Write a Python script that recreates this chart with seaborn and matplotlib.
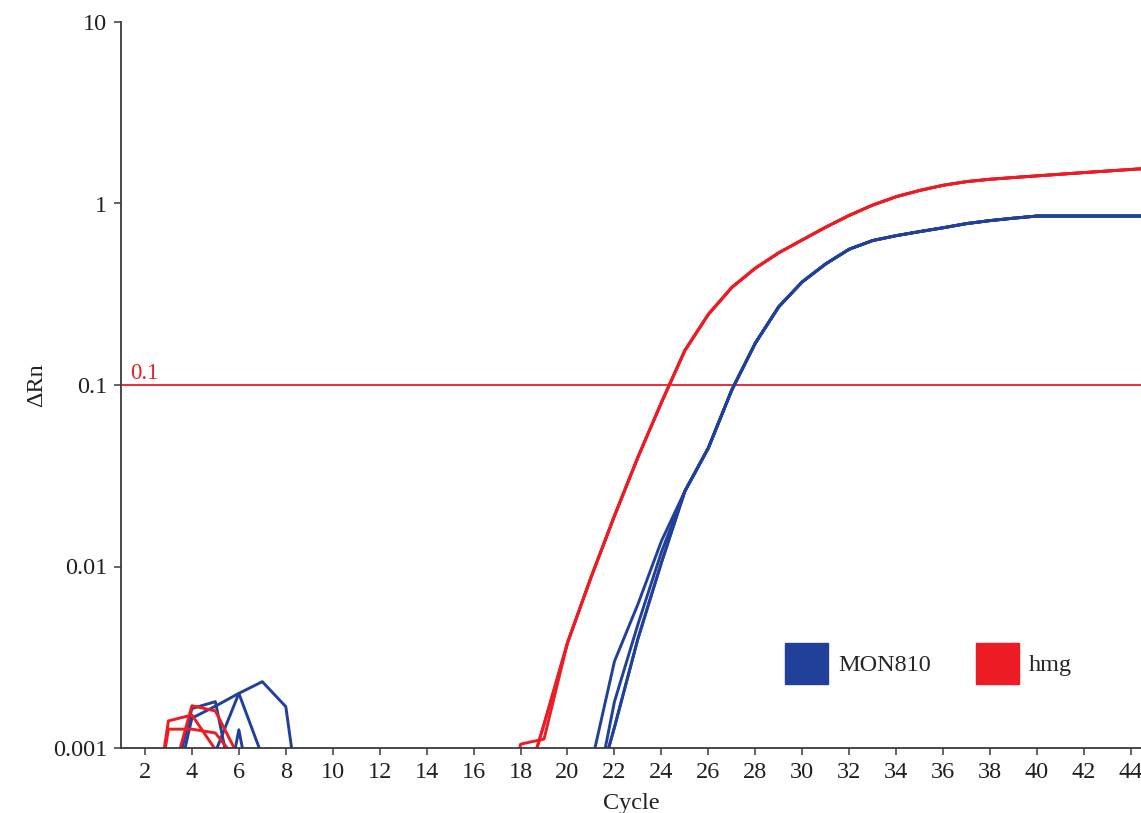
import numpy as np
import pandas as pd
import matplotlib
matplotlib.use("Agg")
import matplotlib.pyplot as plt
from matplotlib.patches import Patch
from matplotlib.ticker import FixedLocator, FixedFormatter, NullLocator
import seaborn as sns

# ---------------- data ----------------
cycles = list(range(1, 46))

# hmg replicates, cycles 1..19 (baseline / noise)
hmg_rep1_early = [0.0002, 0.0002, 0.00141, 0.00152, 0.00098, 0.0003, 0.0002, 0.0002, 0.0002, 0.0002,
                  0.0002, 0.0002, 0.0002, 0.0002, 0.0002, 0.0002, 0.0002, 0.00105, 0.00112]
hmg_rep2_early = [0.0002, 0.0002, 0.00127, 0.00127, 0.00121, 0.00083, 0.0002, 0.0002, 0.0002, 0.0002,
                  0.0002, 0.0002, 0.0002, 0.0002, 0.0002, 0.0002, 0.0002, 0.0005, 0.00135]
hmg_rep3_early = [0.0002, 0.0002, 0.00058, 0.00171, 0.0016, 0.00089, 0.0002, 0.0002, 0.0002, 0.0002,
                  0.0002, 0.0002, 0.0002, 0.0002, 0.0002, 0.0002, 0.0002, 0.0005, 0.00135]
# hmg amplification, cycles 20..45 (replicates overlap)
hmg_late = [0.0038, 0.0087, 0.019, 0.040, 0.080, 0.155, 0.245, 0.345, 0.44, 0.535, 0.63, 0.74, 0.86,
            0.98, 1.09, 1.18, 1.26, 1.32, 1.36, 1.39, 1.42, 1.45, 1.48, 1.51, 1.54, 1.57]

# MON810 replicates, cycles 1..24
mon_rep1_early = [0.0002, 0.0002, 0.0005, 0.00165, 0.0018, 0.00042, 0.0002, 0.0002, 0.0002, 0.0002,
                  0.0002, 0.0002, 0.0002, 0.0002, 0.0002, 0.0002, 0.0002, 0.0002, 0.0002, 0.0002,
                  0.0008, 0.003, 0.0062, 0.0138]
mon_rep2_early = [0.0002, 0.0002, 0.0004, 0.00146, 0.0017, 0.0020, 0.0009, 0.0003, 0.0002, 0.0002,
                  0.0002, 0.0002, 0.0002, 0.0002, 0.0002, 0.0002, 0.0002, 0.0002, 0.0002, 0.0002,
                  0.0004, 0.0018, 0.0048, 0.012]
mon_rep3_early = [0.0002, 0.0002, 0.0002, 0.0002, 0.00095, 0.0020, 0.00232, 0.00169, 0.0002, 0.0002,
                  0.0002, 0.0002, 0.0002, 0.0002, 0.0002, 0.0002, 0.0002, 0.0002, 0.0002, 0.0002,
                  0.00045, 0.0013, 0.004, 0.0105]
mon_rep4_early = [0.0002, 0.0002, 0.0002, 0.0002, 0.00027, 0.00126, 0.00027, 0.0002, 0.0002, 0.0002,
                  0.0002, 0.0002, 0.0002, 0.0002, 0.0002, 0.0002, 0.0002, 0.0002, 0.0002, 0.0002,
                  0.00045, 0.0013, 0.004, 0.0105]
# MON810 amplification, cycles 25..45
mon_late = [0.026, 0.045, 0.094, 0.17, 0.27, 0.37, 0.465, 0.56, 0.625, 0.665, 0.70, 0.735, 0.775,
            0.805, 0.83, 0.853, 0.853, 0.853, 0.853, 0.853, 0.853]

threshold = 0.1
targets = ["MON810", "hmg"]
colors = {"MON810": "#21409A", "hmg": "#ED1C24"}

y_ticks = [0.001, 0.01, 0.1, 1, 10]
y_ticklabels = ["0.001", "0.01", "0.1", "1", "10"]
x_ticks = list(range(2, 45, 2))

# ---------------- build long table ----------------
rows = []
reps = {
    ("hmg", "h1"): hmg_rep1_early + hmg_late,
    ("hmg", "h2"): hmg_rep2_early + hmg_late,
    ("hmg", "h3"): hmg_rep3_early + hmg_late,
    ("MON810", "m1"): mon_rep1_early + mon_late,
    ("MON810", "m2"): mon_rep2_early + mon_late,
    ("MON810", "m3"): mon_rep3_early + mon_late,
    ("MON810", "m4"): mon_rep4_early + mon_late,
}
for (tgt, rep), vals in reps.items():
    for c, v in zip(cycles, vals):
        rows.append({"Cycle": c, "dRn": v, "Target": tgt, "Rep": rep})
df = pd.DataFrame(rows)

# ---------------- plot ----------------
sns.set_style("ticks")
plt.rcParams["font.family"] = ["Liberation Serif", "DejaVu Serif"]

fig = plt.figure(figsize=(11.41, 8.13), dpi=100)
ax = fig.add_axes([121 / 1141, 65 / 813, 1 - 121 / 1141, 726 / 813])

sns.lineplot(data=df, x="Cycle", y="dRn", hue="Target", units="Rep", estimator=None,
             palette=colors, hue_order=targets, linewidth=2.1, legend=False, ax=ax,
             sort=True)

ax.set_yscale("log")
ax.set_ylim(0.001, 10)
ax.set_xlim(0.98, 44.43)

ax.axhline(threshold, color="#ED1C24", linewidth=1.3, zorder=1)
ax.text(1.35, threshold * 1.01, "0.1", color="#ED1C24", fontsize=16.5, va="bottom", ha="left")

ax.yaxis.set_major_locator(FixedLocator(y_ticks))
ax.yaxis.set_major_formatter(FixedFormatter(y_ticklabels))
ax.yaxis.set_minor_locator(NullLocator())
ax.set_xticks(x_ticks)
ax.set_xticklabels([str(t) for t in x_ticks])

for s in ["top", "right"]:
    ax.spines[s].set_visible(False)
for s in ["left", "bottom"]:
    ax.spines[s].set_color("#3a3a3a")
    ax.spines[s].set_linewidth(1.3)

ax.tick_params(axis="both", which="major", labelsize=17.5, colors="#3a3a3a",
               labelcolor="#231f20", length=5, width=1.1, direction="out", pad=5)

ax.set_xlabel("Cycle", fontsize=17.5, color="#231f20", labelpad=7)
ax.set_ylabel("ΔRn", fontsize=17.5, color="#231f20", labelpad=4)

handles = [Patch(facecolor=colors[t], edgecolor=colors[t], label=t) for t in targets]
fig.legend(handles=handles, loc="upper left", bbox_to_anchor=(785 / 1141, 1 - 643 / 813),
           ncol=2, frameon=False, fontsize=17.5, handlelength=1.77, handleheight=2.22,
           handletextpad=0.42, columnspacing=1.85, borderpad=0, borderaxespad=0)

fig.savefig("out.png", dpi=100)
